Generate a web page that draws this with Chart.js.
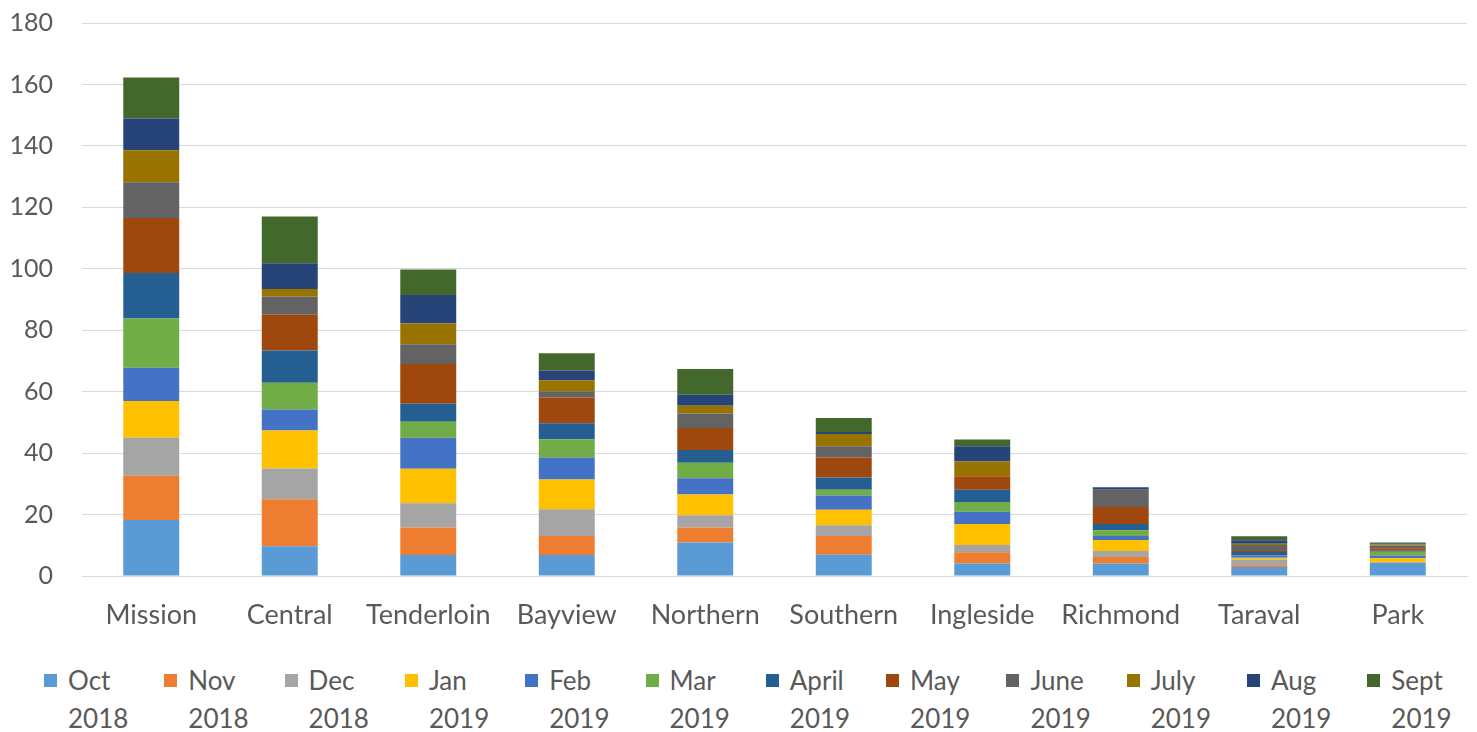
<!DOCTYPE html>
<html>
<head>
<meta charset="utf-8">
<script src="https://cdn.jsdelivr.net/npm/chart.js@4/dist/chart.umd.min.js"></script>
<style>
  html, body { margin: 0; padding: 0; background: #fff; overflow: hidden; }
  #wrap { position: relative; width: 1477px; height: 732px; overflow: hidden; }
  #chart-box { position: absolute; left: 0; top: -21px; width: 1477px; height: 671px; }
  #legend { position: absolute; left: 0; top: 661px; width: 1477px; height: 71px; }
  .lg-item { position: absolute; top: 0; width: 118px; font-family: Lato, sans-serif; font-size: 26px; color: #595959; line-height: 38px; }
  .lg-box { position: absolute; left: 0; top: 13px; width: 13px; height: 13px; }
  .lg-text { position: absolute; left: 24px; top: 0; white-space: nowrap; }
</style>
</head>
<body>
<div id="wrap">
  <div id="chart-box"><canvas id="myChart"></canvas></div>
  <div id="legend"></div>
</div>
<script>
const districts = ['Mission', 'Central', 'Tenderloin', 'Bayview', 'Northern', 'Southern', 'Ingleside', 'Richmond', 'Taraval', 'Park'];

const monthLabels = [['Oct', '2018'], ['Nov', '2018'], ['Dec', '2018'], ['Jan', '2019'], ['Feb', '2019'], ['Mar', '2019'],
                     ['April', '2019'], ['May', '2019'], ['June', '2019'], ['July', '2019'], ['Aug', '2019'], ['Sept', '2019']];

const monthColors = ['#5B9BD5', '#ED7D31', '#A5A5A5', '#FFC000', '#4472C4', '#70AD47',
                     '#255E91', '#9E480E', '#636363', '#997300', '#264478', '#43682B'];

// values per month, one per district (same order as districts)
const oct2018  = [18.2, 9.7, 6.8, 6.8, 10.9, 6.9, 4.1, 4.1, 2.9, 4.2];
const nov2018  = [14.4, 15.3, 9.0, 6.2, 4.9, 6.1, 3.6, 2.1, 0.6, 0];
const dec2018  = [12.4, 10.0, 7.9, 8.7, 4.0, 3.5, 2.4, 1.9, 1.9, 0.3];
const jan2019  = [12.0, 12.4, 11.2, 9.7, 6.7, 5.1, 6.8, 3.6, 0.5, 1.3];
const feb2019  = [10.8, 6.8, 10.1, 7.2, 5.3, 4.6, 4.0, 1.3, 0.8, 0.8];
const mar2019  = [16.0, 8.7, 5.2, 5.9, 5.1, 1.9, 3.2, 1.9, 0, 1.3];
const apr2019  = [14.8, 10.5, 5.9, 5.2, 4.1, 4.0, 4.0, 2.0, 1.1, 0.3];
const may2019  = [17.9, 11.6, 12.9, 8.4, 7.2, 6.5, 4.4, 5.6, 0.3, 0.8];
const jun2019  = [11.7, 6.0, 6.4, 2.0, 4.7, 3.6, 0, 5.6, 2.0, 0.9];
const jul2019  = [10.4, 2.4, 6.8, 3.6, 2.5, 4.0, 4.8, 0, 0.4, 0.4];
const aug2019  = [10.3, 8.4, 9.3, 3.2, 3.6, 0.7, 4.9, 0.8, 1.1, 0.4];
const sept2019 = [13.4, 15.2, 8.3, 5.6, 8.4, 4.5, 2.2, 0, 1.3, 0.2];

const monthData = [oct2018, nov2018, dec2018, jan2019, feb2019, mar2019, apr2019, may2019, jun2019, jul2019, aug2019, sept2019];

const yTicks = { min: 0, max: 180, step: 20 };

const textColor = '#595959';
const fontFamily = 'Lato, sans-serif';

const datasets = monthData.map((vals, i) => ({
    label: monthLabels[i].join(' '),
    data: vals,
    backgroundColor: monthColors[i],
    borderWidth: 0,
    barPercentage: 0.404,
    categoryPercentage: 1.0
}));

new Chart(document.getElementById('myChart').getContext('2d'), {
    type: 'bar',
    data: { labels: districts, datasets: datasets },
    options: {
        responsive: true,
        maintainAspectRatio: false,
        animation: false,
        layout: { padding: { top: 1, right: 10, left: 0, bottom: 0 } },
        plugins: {
            legend: { display: false },
            tooltip: { enabled: false }
        },
        scales: {
            x: {
                stacked: true,
                grid: { display: false, drawTicks: false },
                border: { display: true, color: '#d9d9d9', width: 1 },
                ticks: { color: textColor, font: { family: fontFamily, size: 27 }, padding: 23, maxRotation: 0, autoSkip: false },
                afterFit: scale => { scale.height = 74; }
            },
            y: {
                stacked: true,
                min: yTicks.min,
                max: yTicks.max,
                grid: { color: '#d9d9d9', lineWidth: 1, drawTicks: false },
                border: { display: false },
                ticks: { stepSize: yTicks.step, color: textColor, font: { family: fontFamily, size: 25 }, padding: 29 },
                afterFit: scale => { scale.width = 82; }
            }
        }
    }
});

// legend with two-line labels, built from the same arrays
const legend = document.getElementById('legend');
monthLabels.forEach((lbl, i) => {
    const item = document.createElement('div');
    item.className = 'lg-item';
    item.style.left = (44 + i * 120.3) + 'px';
    item.innerHTML = `<div class="lg-box" style="background:${monthColors[i]}"></div>
        <div class="lg-text">${lbl[0]}<br>${lbl[1]}</div>`;
    legend.appendChild(item);
});
</script>
</body>
</html>
